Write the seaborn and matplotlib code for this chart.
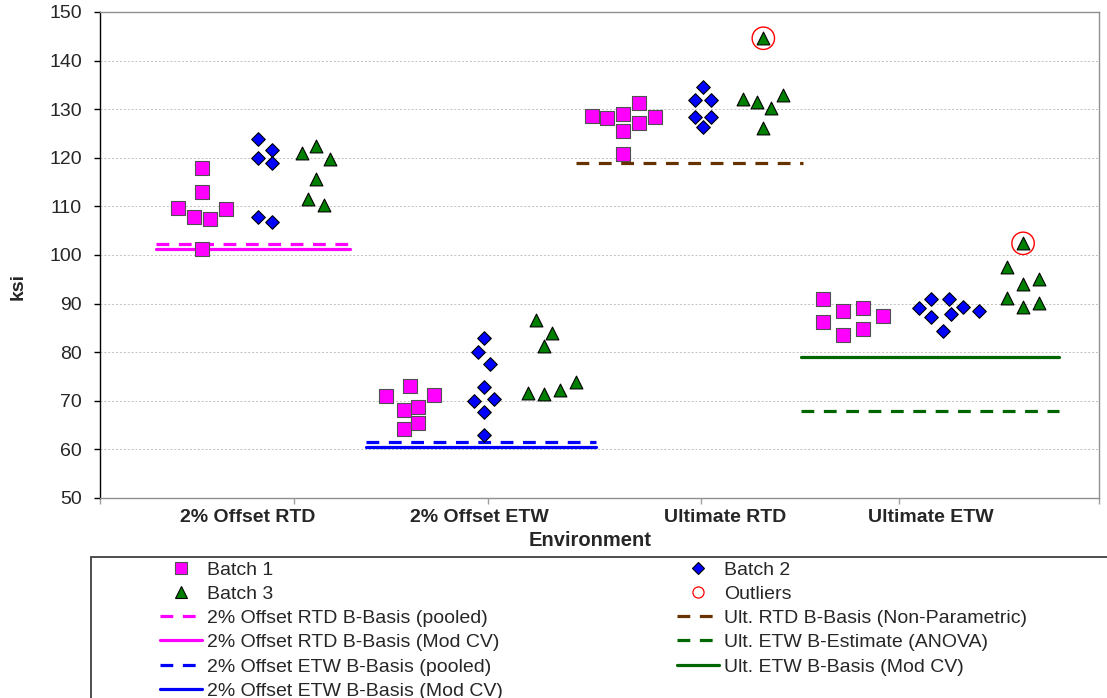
import matplotlib
matplotlib.use("Agg")
import matplotlib.pyplot as plt
import matplotlib.patches as mpatches
from matplotlib.lines import Line2D
import seaborn as sns

# categories / label positions along the x axis (axis runs 0..5)
env_labels = ["2% Offset RTD", "2% Offset ETW", "Ultimate RTD", "Ultimate ETW"]
env_label_x = [0.74, 1.90, 3.13, 4.16]
x_ticks = [0, 0.97, 1.94, 3.01, 4.0, 5.0]

# batch 1 (squares)
b1_x = [0.51, 0.51, 0.39, 0.47, 0.55, 0.63, 0.51,
        1.43, 1.52, 1.55, 1.59, 1.52, 1.59, 1.67,
        2.46, 2.54, 2.62, 2.70, 2.70, 2.78, 2.62, 2.62,
        3.62, 3.62, 3.72, 3.72, 3.82, 3.82, 3.92]
b1_y = [118.0, 112.9, 109.6, 107.8, 107.4, 109.5, 101.2,
        71.0, 68.1, 73.0, 68.8, 64.1, 65.5, 71.1,
        128.5, 128.2, 129.0, 131.3, 127.1, 128.3, 125.6, 120.7,
        90.9, 86.3, 88.5, 83.5, 89.1, 84.7, 87.4]

# batch 2 (diamonds)
b2_x = [0.79, 0.86, 0.79, 0.86, 0.79, 0.86,
        1.92, 1.89, 1.95, 1.92, 1.87, 1.97, 1.92, 1.92,
        3.02, 2.98, 3.06, 2.98, 3.06, 3.02,
        4.10, 4.16, 4.25, 4.16, 4.26, 4.32, 4.40, 4.22]
b2_y = [123.8, 121.7, 119.9, 118.9, 107.9, 106.7,
        83.0, 80.1, 77.6, 72.8, 70.0, 70.3, 67.6, 63.0,
        134.6, 131.9, 131.9, 128.3, 128.3, 126.3,
        89.1, 90.9, 90.9, 87.3, 87.9, 89.2, 88.4, 84.4]

# batch 3 (triangles)
b3_x = [1.01, 1.08, 1.15, 1.08, 1.04, 1.12,
        2.18, 2.26, 2.22, 2.14, 2.22, 2.30, 2.38,
        3.32, 3.22, 3.29, 3.36, 3.42, 3.32,
        4.62, 4.54, 4.62, 4.70, 4.54, 4.62, 4.70]
b3_y = [120.9, 122.5, 119.8, 115.6, 111.6, 110.2,
        86.6, 84.0, 81.3, 71.7, 71.3, 72.2, 73.9,
        144.6, 132.0, 131.4, 130.3, 132.9, 126.1,
        102.4, 97.5, 94.0, 95.0, 91.1, 89.2, 90.2]

outlier_x = [3.32, 4.62]
outlier_y = [144.6, 102.4]

# basis values (value, x start, x end)
basis_names = ["2% Offset RTD B-Basis (pooled)", "2% Offset RTD B-Basis (Mod CV)",
               "2% Offset ETW B-Basis (pooled)", "2% Offset ETW B-Basis (Mod CV)",
               "Ult. RTD B-Basis (Non-Parametric)", "Ult. ETW B-Estimate (ANOVA)",
               "Ult. ETW B-Basis (Mod CV)"]
basis_vals = [102.3, 101.3, 61.5, 60.4, 118.9, 67.8, 79.1]
basis_x0 = [0.28, 0.28, 1.33, 1.33, 2.38, 3.51, 3.51]
basis_x1 = [1.25, 1.25, 2.48, 2.48, 3.52, 4.80, 4.80]
basis_colors = ["#FF00FF", "#FF00FF", "#0000FF", "#0000FF", "#663300", "#006600", "#006600"]
basis_dashed = [True, False, True, False, True, True, False]

sns.set_style("white")
plt.rcParams['font.family'] = ['Liberation Sans', 'DejaVu Sans']

fig = plt.figure(figsize=(11.07, 6.98), dpi=100)
ax = fig.add_axes([100 / 1107, 1 - 498 / 698, 999 / 1107, 486 / 698])

ax.yaxis.grid(True, color="#c0c0c0", linestyle=(0, (2, 2)), linewidth=0.7)
ax.set_axisbelow(True)

handles = {}
for name, v, x0, x1, c, d in zip(basis_names, basis_vals, basis_x0, basis_x1,
                                  basis_colors, basis_dashed):
    ls = (0, (4, 3)) if d else "-"
    ln, = ax.plot([x0, x1], [v, v], color=c, linewidth=2.3, linestyle=ls, zorder=2)
    handles[name] = ln

sns.scatterplot(x=b1_x, y=b1_y, marker="s", color="#FF00FF", edgecolor="#505050",
                linewidth=0.8, s=95, ax=ax, zorder=3, legend=False)
sns.scatterplot(x=b2_x, y=b2_y, marker="D", color="#0000FF", edgecolor="black",
                linewidth=0.8, s=48, ax=ax, zorder=3, legend=False)
sns.scatterplot(x=b3_x, y=b3_y, marker="^", color="#008000", edgecolor="black",
                linewidth=0.8, s=85, ax=ax, zorder=3, legend=False)
sns.scatterplot(x=outlier_x, y=outlier_y, marker="o", facecolor="none", edgecolor="red",
                linewidth=1.0, s=260, ax=ax, zorder=4, legend=False)

# smaller marker swatches for the legend
handles["Batch 1"] = Line2D([], [], linestyle="none", marker="s", markersize=8.5,
                            markerfacecolor="#FF00FF", markeredgecolor="#505050", markeredgewidth=0.8)
handles["Batch 2"] = Line2D([], [], linestyle="none", marker="D", markersize=6.5,
                            markerfacecolor="#0000FF", markeredgecolor="black", markeredgewidth=0.8)
handles["Batch 3"] = Line2D([], [], linestyle="none", marker="^", markersize=9,
                            markerfacecolor="#008000", markeredgecolor="black", markeredgewidth=0.8)
handles["Outliers"] = Line2D([], [], linestyle="none", marker="o", markersize=8,
                             markerfacecolor="none", markeredgecolor="red", markeredgewidth=0.9)

ax.set_xlim(0, 5)
ax.set_ylim(50, 150)
ax.set_yticks(range(50, 151, 10))
ax.set_xticks(x_ticks)
ax.set_xticklabels([])
ax.tick_params(axis="y", direction="out", length=4, width=1, color="black",
               labelsize=14, pad=9, left=True)
ax.tick_params(axis="x", direction="out", length=4, width=1, color="#a0a0a0", bottom=True)
ax.set_xlabel("")
ax.set_ylabel("")

for side in ["top", "right", "bottom"]:
    ax.spines[side].set_color("#909090")
    ax.spines[side].set_linewidth(1)
ax.spines["left"].set_color("black")
ax.spines["left"].set_linewidth(1)

for lab, lx in zip(env_labels, env_label_x):
    ax.text(lx, -0.04, lab, transform=ax.get_xaxis_transform(), ha="center", va="center",
            fontsize=14, fontweight="bold")

fig.text(590 / 1107, 1 - 541 / 698, "Environment", ha="center", va="center",
         fontsize=14.5, fontweight="bold")
fig.text(18 / 1107, 1 - 287 / 698, "ksi", ha="center", va="center", rotation=90,
         fontsize=14, fontweight="bold")

# legend frame running off the bottom/right of the image
fig.patches.append(mpatches.Rectangle((91 / 1107, -0.2), 1.2, 0.2 + 1 - 557 / 698,
                                      transform=fig.transFigure, fill=False,
                                      edgecolor="#404040", linewidth=1.3, zorder=1))

left_names = ["Batch 1", "Batch 3", basis_names[0], basis_names[1], basis_names[2], basis_names[3]]
right_names = ["Batch 2", "Outliers", basis_names[4], basis_names[5], basis_names[6]]
leg_kw = dict(loc="upper left", frameon=False, fontsize=14, handlelength=2.15,
              handletextpad=0.25, labelspacing=0.34, borderpad=0, borderaxespad=0,
              numpoints=1)
leg1 = fig.legend([handles[n] for n in left_names], left_names,
                  bbox_to_anchor=(160 / 1107, 1 - 561 / 698), **leg_kw)
leg2 = fig.legend([handles[n] for n in right_names], right_names,
                  bbox_to_anchor=(677 / 1107, 1 - 561 / 698), **leg_kw)

fig.savefig("out.png", dpi=100)
